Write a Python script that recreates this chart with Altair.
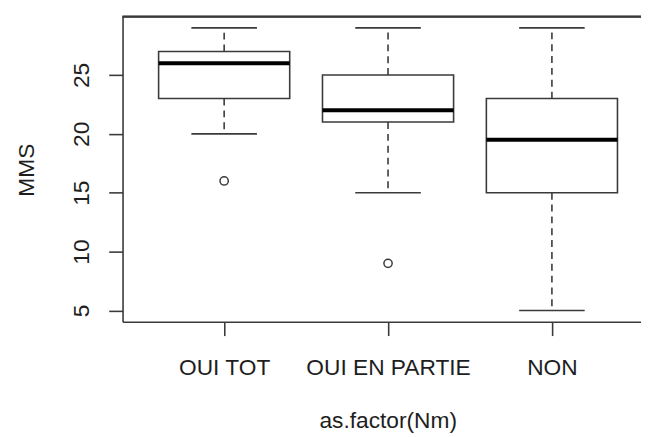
import altair as alt
import pandas as pd

categories = ["OUI TOT", "OUI EN PARTIE", "NON"]
positions = [1, 2, 3]
whisker_low = [20, 15, 5]
q1 = [23, 21, 15]
median = [26, 22, 19.5]
q3 = [27, 25, 23]
whisker_high = [29, 29, 29]
outlier_groups = ["OUI TOT", "OUI EN PARTIE"]
outlier_values = [16, 9]
y_ticks = [5, 10, 15, 20, 25]

box_df = pd.DataFrame({
    "group": categories,
    "pos": positions,
    "wlo": whisker_low,
    "q1": q1,
    "median": median,
    "q3": q3,
    "whi": whisker_high,
})
out_df = pd.DataFrame({"group": outlier_groups, "value": outlier_values})
out_df["pos"] = out_df["group"].map(dict(zip(categories, positions)))

label_expr = " : ".join(
    f"datum.value == {p} ? '{c}'" for p, c in zip(positions, categories)
) + " : ''"

FONT = "Liberation Sans"
TXT = "#1e1e1e"
LINE = "#3a3a3a"

xscale = alt.Scale(domain=[0.38, 3.5436], nice=False, zero=False)
yscale = alt.Scale(domain=[4.04, 29.96], nice=False, zero=False)

x_axis = alt.Axis(
    values=positions, labelExpr=label_expr, title="as.factor(Nm)", grid=False,
    tickSize=14, labelPadding=39, labelBaseline="alphabetic", labelAngle=0,
    labelAlign="center", labelFlush=False, labelOverlap=False,
    titleX=268.5, titleY=107, titleAlign="center", titleBaseline="alphabetic",
)
y_axis = alt.Axis(
    values=y_ticks, title="MMS", grid=False, tickSize=14,
    labelAngle=270, labelAlign="center", labelBaseline="alphabetic",
    labelPadding=20, titleAngle=270, titleX=-90.5, titleY=155,
    titleAlign="center", titleBaseline="alphabetic",
)

base = alt.Chart(box_df).transform_calculate(
    x_lo="datum.pos - 0.4", x_hi="datum.pos + 0.4",
    s_lo="datum.pos - 0.2", s_hi="datum.pos + 0.2",
)

def X(f):
    return alt.X(f, type="quantitative", scale=xscale, axis=x_axis)

def Y(f):
    return alt.Y(f, type="quantitative", scale=yscale, axis=y_axis)

whisk_up = base.mark_rule(color=LINE, strokeWidth=1.6, strokeDash=[7, 5]).encode(
    x=X("pos"), y=Y("q3"), y2="whi")
whisk_dn = base.mark_rule(color=LINE, strokeWidth=1.6, strokeDash=[7, 5]).encode(
    x=X("pos"), y=Y("q1"), y2="wlo")
staple_up = base.mark_rule(color=LINE, strokeWidth=1.6).encode(
    x=X("s_lo:Q"), x2="s_hi:Q", y=Y("whi"))
staple_dn = base.mark_rule(color=LINE, strokeWidth=1.6).encode(
    x=X("s_lo:Q"), x2="s_hi:Q", y=Y("wlo"))
boxes = base.mark_rect(fill="white", stroke=LINE, strokeWidth=1.6).encode(
    x=X("x_lo:Q"), x2="x_hi:Q", y=Y("q1"), y2="q3")
medians = base.mark_rule(color="#000000", strokeWidth=4).encode(
    x=X("x_lo:Q"), x2="x_hi:Q", y=Y("median"))
outliers = alt.Chart(out_df).mark_point(
    shape="circle", filled=False, color=LINE, size=70, strokeWidth=1.5, opacity=1
).encode(x=X("pos"), y=Y("value"))
top_frame = alt.Chart(box_df).mark_rule(color=LINE, strokeWidth=1.6).encode(
    y=alt.Y(datum=29.96, type="quantitative", scale=yscale, axis=y_axis))

chart = alt.layer(
    whisk_up, whisk_dn, staple_up, staple_dn, boxes, medians, outliers, top_frame
).properties(
    width=525, height=309,
    padding={"left": 116, "top": 6, "right": 0, "bottom": 114},
    autosize=alt.AutoSizeParams(type="none"),
    background="white",
).configure_view(stroke=None).configure_axis(
    labelFont=FONT, titleFont=FONT, labelFontSize=23, titleFontSize=23,
    titleFontWeight="normal", labelColor=TXT, titleColor=TXT,
    domainColor=LINE, domainWidth=1.6, tickColor=LINE, tickWidth=1.6,
)

chart.save("out.html", embed_options={"renderer": "svg", "actions": False})
